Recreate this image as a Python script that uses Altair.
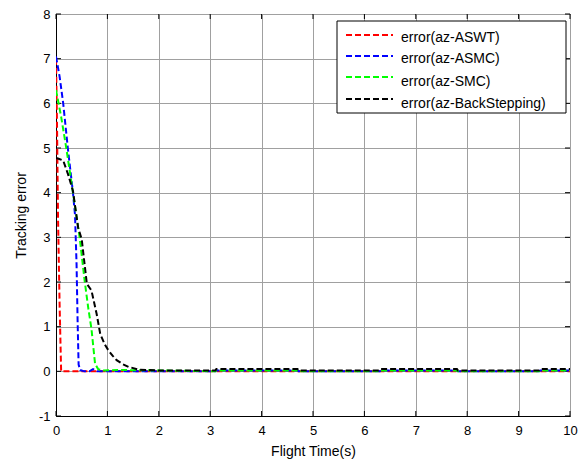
import altair as alt
import pandas as pd

# ---- data ----
series = ["error(az-ASWT)", "error(az-ASMC)", "error(az-SMC)", "error(az-BackStepping)"]
colors = ["#ff0000", "#0000ff", "#00ff00", "#000000"]

t_aswt = [0.0, 0.02, 0.04, 0.07, 0.10, 10.0]
e_aswt = [7.0, 5.5, 3.4, 1.5, 0.0, 0.0]

t_asmc = [0.0, 0.07, 0.14, 0.23, 0.33, 0.37, 0.40, 0.42, 0.44, 0.47, 0.55, 0.65, 0.72, 0.80,
          3.1, 3.12, 4.7, 4.72, 6.3, 6.32, 7.8, 7.82, 9.4, 9.42, 10.0]
e_asmc = [7.05, 6.6, 6.0, 5.0, 4.0, 3.5, 2.4, 1.15, 0.15, 0.03, 0.0, 0.0, 0.05, 0.0,
          0.0, 0.02, 0.02, 0.0, 0.0, 0.02, 0.02, 0.0, 0.0, 0.02, 0.02]

t_smc = [0.0, 0.05, 0.10, 0.20, 0.33, 0.46, 0.56, 0.63, 0.69, 0.73, 0.76, 0.82, 0.90, 1.2, 2.0,
         3.1, 3.12, 4.7, 4.72, 6.3, 6.32, 7.8, 7.82, 9.4, 9.42, 10.0]
e_smc = [6.3, 6.0, 5.7, 5.0, 4.0, 3.0, 2.0, 1.4, 0.95, 0.5, 0.17, 0.05, 0.02, 0.03, 0.02,
         0.0, 0.02, 0.02, 0.0, 0.0, 0.02, 0.02, 0.0, 0.0, 0.02, 0.02]

t_bs = [0.0, 0.05, 0.14, 0.235, 0.33, 0.43, 0.50, 0.60, 0.69, 0.79, 0.86, 0.95, 1.02, 1.10,
        1.18, 1.30, 1.41, 1.60, 2.0, 3.1, 3.12, 4.7, 4.72, 6.3, 6.32, 7.8, 7.82, 9.4, 9.42, 10.0]
e_bs = [4.78, 4.76, 4.72, 4.41, 4.04, 3.22, 2.96, 1.96, 1.81, 1.29, 0.84, 0.6, 0.47, 0.35,
        0.25, 0.16, 0.10, 0.04, 0.02, 0.02, 0.05, 0.05, 0.02, 0.02, 0.05, 0.05, 0.02, 0.02, 0.05, 0.05]

x_ticks = list(range(0, 11))
y_ticks = list(range(-1, 9))

# ---- layout / style ----
FONT = "Liberation Sans"
W, H = 514, 402
DASH = [6, 3]
# legend box and entries, in plot-area pixels
LEG_BOX = (281, 510, 7, 99)
LEG_SYM_X = (290, 337)
LEG_TXT_X = 345
LEG_SYM_Y = [21, 42, 63, 85]
LEG_TXT_Y = [24, 45, 68, 90]

xs = alt.Scale(domain=[0, 10], nice=False)
ys = alt.Scale(domain=[-1, 8], nice=False)
cs = alt.Scale(domain=series, range=colors)

frames = []
for name, ts, es in [(series[0], t_aswt, e_aswt), (series[1], t_asmc, e_asmc),
                     (series[2], t_smc, e_smc), (series[3], t_bs, e_bs)]:
    frames.append(pd.DataFrame({"series": name, "t": ts, "e": es, "i": range(len(ts))}))

layers = []
for df in frames:
    layers.append(
        alt.Chart(df).mark_line(strokeWidth=2, strokeDash=DASH, clip=True).encode(
            x=alt.X("t:Q", scale=xs, axis=alt.Axis(values=x_ticks, title="Flight Time(s)",
                                                   labelExpr="'' + datum.value")),
            y=alt.Y("e:Q", scale=ys, axis=alt.Axis(values=y_ticks, title="Tracking error",
                                                   labelExpr="'' + datum.value")),
            color=alt.Color("series:N", scale=cs, legend=None),
            order="i:Q",
        )
    )

xt = pd.DataFrame({"t": x_ticks})
yt = pd.DataFrame({"e": y_ticks})
tick_style = dict(color="black", strokeWidth=1)
ticks = [
    alt.Chart(xt).mark_rule(**tick_style).encode(x=alt.X("t:Q", scale=xs), y=alt.value(H), y2=alt.value(H - 5)),
    alt.Chart(xt).mark_rule(**tick_style).encode(x=alt.X("t:Q", scale=xs), y=alt.value(0), y2=alt.value(5)),
    alt.Chart(yt).mark_rule(**tick_style).encode(y=alt.Y("e:Q", scale=ys), x=alt.value(0), x2=alt.value(5)),
    alt.Chart(yt).mark_rule(**tick_style).encode(y=alt.Y("e:Q", scale=ys), x=alt.value(W), x2=alt.value(W - 5)),
]

# manual legend (box, dashed samples, labels)
one = pd.DataFrame({"k": [0]})
legend_layers = [
    alt.Chart(one).mark_rect(fill="white", stroke="black", strokeWidth=1).encode(
        x=alt.value(LEG_BOX[0]), x2=alt.value(LEG_BOX[1]),
        y=alt.value(LEG_BOX[2]), y2=alt.value(LEG_BOX[3]),
    )
]
for k, name in enumerate(series):
    d = pd.DataFrame({"series": [name]})
    legend_layers.append(
        alt.Chart(d).mark_rule(strokeWidth=2, strokeDash=DASH).encode(
            x=alt.value(LEG_SYM_X[0]), x2=alt.value(LEG_SYM_X[1]), y=alt.value(LEG_SYM_Y[k]),
            color=alt.Color("series:N", scale=cs, legend=None),
        )
    )
    legend_layers.append(
        alt.Chart(d).mark_text(align="left", baseline="middle", font=FONT, fontSize=14, color="black").encode(
            x=alt.value(LEG_TXT_X), y=alt.value(LEG_TXT_Y[k]), text="series:N",
        )
    )

chart = alt.layer(*ticks, *layers, *legend_layers).properties(
    width=W, height=H,
    autosize=alt.AutoSizeParams(type="none"),
    padding={"left": 48, "top": 6, "right": 8, "bottom": 43},
).configure_view(
    stroke="black", strokeWidth=1,
).configure_axis(
    grid=True, gridColor="#a0a0a0", gridWidth=1,
    domain=True, domainColor="black", domainWidth=1,
    ticks=False, labelFont=FONT, labelFontSize=13, labelColor="black", labelFlush=False,
    titleFont=FONT, titleFontSize=14, titleFontWeight="normal", titleColor="black",
).configure_axisX(
    labelPadding=8, titlePadding=7,
).configure_axisY(
    labelPadding=6, titlePadding=10,
)

chart.save("out.html", embed_options={"renderer": "svg", "actions": False})
